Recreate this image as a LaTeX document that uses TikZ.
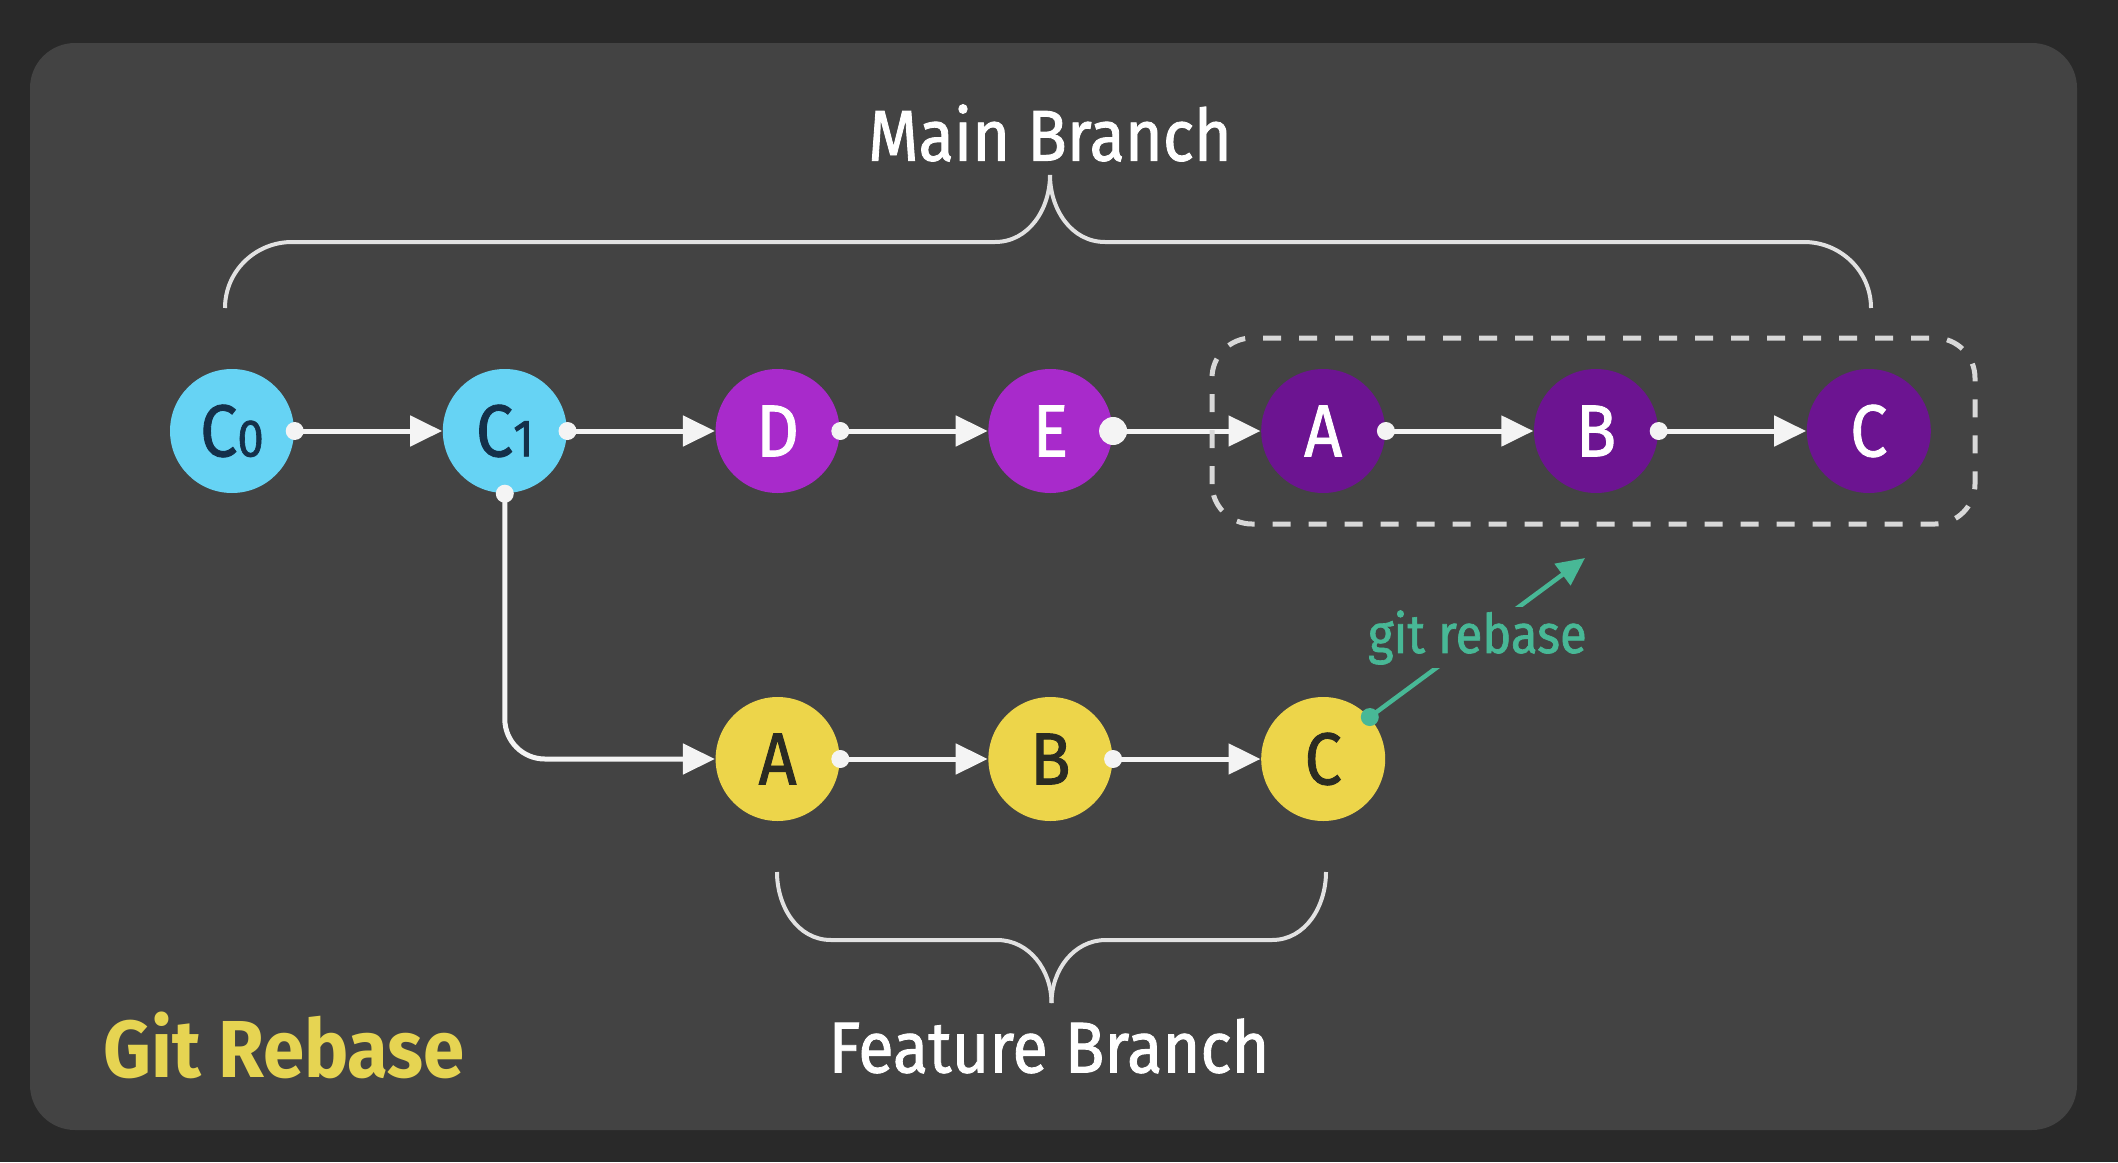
\documentclass[tikz,border=0pt]{standalone}
\usepackage{fontspec}
\setmainfont{Fira Sans}[FakeStretch=0.92]
\newfontfamily\medfont{Fira Sans}[FakeStretch=0.9,FakeBold=1.2]
\usetikzlibrary{positioning,arrows.meta}

\definecolor{outerbg}{HTML}{292929}
\definecolor{panelc}{HTML}{434343}
\definecolor{cyanc}{HTML}{66D3F4}
\definecolor{navyc}{HTML}{14304A}
\definecolor{purplec}{HTML}{A82ACB}
\definecolor{darkpurplec}{HTML}{6C1491}
\definecolor{yellowc}{HTML}{EDD54A}
\definecolor{darktext}{HTML}{2B2B22}
\definecolor{tealc}{HTML}{48B896}
\definecolor{titlec}{HTML}{E6D452}
\definecolor{linec}{HTML}{F4F4F4}
\definecolor{bracec}{HTML}{E2E2E2}
\definecolor{dashc}{HTML}{D8D8D8}

\newcommand\dgt[1]{{\fontsize{15}{15}\selectfont #1}}

\tikzset{
  commit/.style={circle, minimum size=1.24cm, inner sep=0pt, font=\medfont\fontsize{21}{21}\selectfont},
  basecommit/.style={commit, fill=cyanc, text=navyc},
  newcommit/.style={commit, fill=purplec, text=white},
  movedcommit/.style={commit, fill=darkpurplec, text=white},
  featcommit/.style={commit, fill=yellowc, text=darktext},
  link/.style={draw=linec, line width=0.05cm, -{Triangle[length=0.32cm,width=0.3cm]}},
  rebase/.style={draw=tealc, line width=0.045cm, -{Triangle[length=0.28cm,width=0.26cm]}},
  brace/.style={draw=bracec, line width=0.04cm},
  dashbox/.style={draw=dashc, line width=0.05cm, dash pattern=on 0.18cm off 0.18cm, rounded corners=0.4cm},
  branchlabel/.style={text=white, font=\medfont\fontsize{20.5}{20.5}\selectfont},
}

\begin{document}
\begin{tikzpicture}
\def\dx{2.728}
\def\xa{2.32}
\def\ya{7.31}
\def\yb{4.03}

% background and panel
\fill[outerbg] (0,0) rectangle (21.18,11.62);
\fill[panelc, rounded corners=0.45cm] (0.30,0.32) rectangle (20.77,11.19);

% main row
\node[basecommit](c0) at (\xa, \ya) {C\dgt{0}};
\node[basecommit](c1) at (\xa + \dx, \ya) {C\dgt{1}};
\node[newcommit](d) at (\xa + 2*\dx, \ya) {D};
\node[newcommit](e) at (\xa + 3*\dx, \ya) {E};
\node[movedcommit](ma) at (\xa + 4*\dx, \ya) {A};
\node[movedcommit](mb) at (\xa + 5*\dx, \ya) {B};
\node[movedcommit](mc) at (\xa + 6*\dx, \ya) {C};

% feature row
\node[featcommit](fa) at (\xa + 2*\dx, \yb) {A};
\node[featcommit](fb) at (\xa + 3*\dx, \yb) {B};
\node[featcommit](fc) at (\xa + 4*\dx, \yb) {C};

\draw[link] (c0.east) -- (c1.west);
\draw[link] (c1.east) -- (d.west);
\draw[link] (d.east) -- (e.west);
\draw[link] (e.east) -- (ma.west);
\draw[link] (ma.east) -- (mb.west);
\draw[link] (mb.east) -- (mc.west);
\draw[link, rounded corners=0.4cm] (c1.south) |- (fa.west);
\draw[link] (fa.east) -- (fb.west);
\draw[link] (fb.east) -- (fc.west);

\fill[linec] (c0.east) circle (0.09);
\fill[linec] (c1.east) circle (0.09);
\fill[linec] (c1.south) circle (0.09);
\fill[linec] (d.east) circle (0.09);
\fill[linec] (e.east) circle (0.14);
\fill[linec] (ma.east) circle (0.09);
\fill[linec] (mb.east) circle (0.09);
\fill[linec] (fa.east) circle (0.09);
\fill[linec] (fb.east) circle (0.09);

% rebased commits
\draw[dashbox] (12.12,6.38) rectangle (19.75,8.24);

\coordinate (rb) at (15.85,6.04);
\draw[rebase] (fc.42) -- (rb) node[midway, fill=panelc, inner sep=1pt, text=tealc, font=\medfont\fontsize{15.5}{15.5}\selectfont] (rblabel) {git rebase};
\fill[tealc] (fc.42) circle (0.09);

% braces
\draw[brace] (2.25,8.54) to[out=90,in=180] (2.92,9.20) -- (9.95,9.20) to[out=0,in=-90] (10.50,9.87);
\draw[brace] (18.71,8.54) to[out=90,in=0] (18.04,9.20) -- (11.05,9.20) to[out=180,in=-90] (10.50,9.87);
\node[branchlabel](mainlbl) at (10.50,10.29) {Main Branch};

\draw[brace] (7.77,2.90) to[out=-90,in=180] (8.31,2.22) -- (9.97,2.22) to[out=0,in=90] (10.515,1.59);
\draw[brace] (13.26,2.90) to[out=-90,in=0] (12.72,2.22) -- (11.06,2.22) to[out=180,in=90] (10.515,1.59);
\node[branchlabel](featlbl) at (10.49,1.16) {Feature Branch};

\node[text=titlec, font=\bfseries\fontsize{23}{23}\selectfont](title) at (2.84,1.17) {Git Rebase};
\end{tikzpicture}
\end{document}
